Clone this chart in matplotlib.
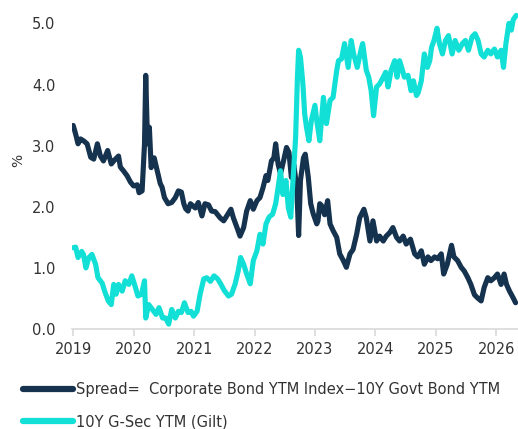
import matplotlib
matplotlib.use("Agg")
import matplotlib.pyplot as plt

# spread = corporate bond index YTM minus 10Y govt YTM (decimal years, %)
spread_t = [2019.00, 2019.04, 2019.08, 2019.12, 2019.17, 2019.23, 2019.29, 2019.34, 2019.40, 2019.45,
            2019.50, 2019.57, 2019.63, 2019.68, 2019.75, 2019.78, 2019.83, 2019.89, 2019.95, 2020.00,
            2020.06, 2020.09, 2020.14, 2020.18, 2020.20, 2020.23, 2020.26, 2020.29, 2020.32, 2020.34,
            2020.39, 2020.44, 2020.47, 2020.51, 2020.57, 2020.63, 2020.69, 2020.74, 2020.79, 2020.83,
            2020.86, 2020.90, 2020.94, 2021.02, 2021.07, 2021.13, 2021.18, 2021.24, 2021.29, 2021.35,
            2021.43, 2021.49, 2021.54, 2021.61, 2021.65, 2021.71, 2021.76, 2021.82, 2021.87, 2021.93,
            2021.98, 2022.04, 2022.09, 2022.14, 2022.19, 2022.22, 2022.28, 2022.32, 2022.35, 2022.39,
            2022.43, 2022.48, 2022.53, 2022.57, 2022.61, 2022.65, 2022.70, 2022.73, 2022.76, 2022.81,
            2022.84, 2022.89, 2022.93, 2022.97, 2023.03, 2023.05, 2023.08, 2023.11, 2023.16, 2023.21,
            2023.25, 2023.30, 2023.36, 2023.41, 2023.47, 2023.52, 2023.58, 2023.63, 2023.69, 2023.74,
            2023.81, 2023.85, 2023.91, 2023.96, 2024.02, 2024.07, 2024.13, 2024.18, 2024.24, 2024.29,
            2024.35, 2024.40, 2024.46, 2024.51, 2024.58, 2024.65, 2024.70, 2024.76, 2024.81, 2024.87,
            2024.92, 2024.98, 2025.03, 2025.09, 2025.13, 2025.19, 2025.26, 2025.30, 2025.36, 2025.42,
            2025.47, 2025.53, 2025.58, 2025.64, 2025.69, 2025.75, 2025.80, 2025.86, 2025.91, 2025.97,
            2026.02, 2026.08, 2026.13, 2026.17, 2026.22, 2026.28, 2026.32]
spread = [3.33, 3.19, 3.03, 3.11, 3.08, 3.03, 2.81, 2.78, 3.03, 2.83,
          2.75, 2.92, 2.70, 2.76, 2.83, 2.65, 2.59, 2.51, 2.40, 2.34,
          2.36, 2.23, 2.26, 3.03, 4.15, 3.03, 3.30, 2.64, 2.75, 2.80,
          2.59, 2.38, 2.32, 2.15, 2.05, 2.07, 2.15, 2.26, 2.24, 2.05,
          1.97, 1.93, 2.05, 1.98, 2.07, 1.85, 2.05, 2.03, 1.93, 1.92,
          1.82, 1.77, 1.85, 1.96, 1.82, 1.66, 1.52, 1.66, 1.93, 2.10,
          1.96, 2.10, 2.15, 2.31, 2.51, 2.43, 2.75, 2.80, 3.03, 2.70,
          2.54, 2.75, 2.97, 2.89, 2.48, 2.69, 2.31, 1.53, 2.43, 2.80,
          2.86, 2.48, 2.05, 1.89, 1.72, 1.77, 2.05, 2.02, 1.87, 2.10,
          1.72, 1.61, 1.50, 1.23, 1.12, 1.01, 1.23, 1.30, 1.55, 1.82,
          1.96, 1.82, 1.44, 1.77, 1.44, 1.52, 1.44, 1.52, 1.58, 1.66,
          1.50, 1.44, 1.52, 1.39, 1.47, 1.23, 1.18, 1.28, 1.06, 1.18,
          1.12, 1.18, 1.15, 1.23, 0.90, 1.06, 1.37, 1.18, 1.12, 1.01,
          0.95, 0.84, 0.73, 0.56, 0.51, 0.46, 0.68, 0.84, 0.79, 0.84,
          0.90, 0.73, 0.90, 0.73, 0.62, 0.51, 0.43]

# 10Y gilt yield
gilt_t = [2019.00, 2019.04, 2019.08, 2019.14, 2019.17, 2019.21, 2019.26, 2019.31, 2019.37, 2019.41,
          2019.48, 2019.52, 2019.58, 2019.63, 2019.67, 2019.71, 2019.75, 2019.81, 2019.86, 2019.92,
          2019.97, 2020.03, 2020.07, 2020.13, 2020.18, 2020.20, 2020.25, 2020.31, 2020.37, 2020.42,
          2020.48, 2020.53, 2020.58, 2020.63, 2020.69, 2020.74, 2020.79, 2020.84, 2020.90, 2020.95,
          2020.99, 2021.05, 2021.10, 2021.16, 2021.21, 2021.27, 2021.33, 2021.39, 2021.44, 2021.50,
          2021.57, 2021.62, 2021.68, 2021.73, 2021.77, 2021.82, 2021.87, 2021.93, 2021.98, 2022.04,
          2022.09, 2022.14, 2022.19, 2022.24, 2022.30, 2022.35, 2022.39, 2022.43, 2022.47, 2022.52,
          2022.56, 2022.60, 2022.64, 2022.68, 2022.71, 2022.73, 2022.76, 2022.80, 2022.83, 2022.86,
          2022.90, 2022.94, 2023.00, 2023.03, 2023.08, 2023.14, 2023.19, 2023.25, 2023.30, 2023.36,
          2023.39, 2023.44, 2023.49, 2023.55, 2023.60, 2023.64, 2023.70, 2023.76, 2023.79, 2023.85,
          2023.89, 2023.93, 2023.97, 2024.02, 2024.07, 2024.13, 2024.17, 2024.21, 2024.26, 2024.32,
          2024.36, 2024.40, 2024.44, 2024.48, 2024.54, 2024.59, 2024.63, 2024.68, 2024.71, 2024.76,
          2024.81, 2024.86, 2024.90, 2024.93, 2024.97, 2025.02, 2025.06, 2025.11, 2025.16, 2025.21,
          2025.27, 2025.32, 2025.38, 2025.44, 2025.49, 2025.54, 2025.60, 2025.65, 2025.70, 2025.75,
          2025.80, 2025.86, 2025.91, 2025.97, 2026.02, 2026.08, 2026.12, 2026.16, 2026.21, 2026.25,
          2026.28, 2026.33]
gilt = [1.33, 1.34, 1.17, 1.27, 1.22, 1.00, 1.17, 1.22, 1.06, 0.84,
        0.75, 0.62, 0.46, 0.40, 0.73, 0.57, 0.73, 0.62, 0.79, 0.73,
        0.87, 0.68, 0.54, 0.57, 0.79, 0.18, 0.40, 0.32, 0.24, 0.35,
        0.18, 0.18, 0.08, 0.32, 0.18, 0.29, 0.27, 0.43, 0.27, 0.29,
        0.21, 0.29, 0.57, 0.82, 0.84, 0.78, 0.87, 0.82, 0.74, 0.63,
        0.54, 0.57, 0.74, 0.95, 1.17, 1.06, 0.90, 0.74, 1.12, 1.28,
        1.55, 1.39, 1.72, 1.83, 1.88, 2.05, 2.31, 2.59, 2.20, 2.43,
        1.98, 1.83, 2.48, 3.13, 4.11, 4.56, 4.45, 4.02, 3.52, 3.30,
        3.08, 3.41, 3.66, 3.41, 3.08, 3.79, 3.36, 3.74, 3.79, 4.23,
        4.39, 4.42, 4.67, 4.28, 4.72, 4.50, 4.28, 4.56, 4.67, 4.23,
        4.12, 3.90, 3.49, 3.96, 4.01, 4.12, 4.20, 3.96, 4.23, 4.39,
        4.12, 4.39, 4.26, 4.12, 4.15, 3.90, 4.06, 3.82, 3.87, 4.06,
        4.50, 4.28, 4.39, 4.61, 4.72, 4.92, 4.67, 4.50, 4.72, 4.80,
        4.50, 4.72, 4.56, 4.67, 4.72, 4.56, 4.78, 4.83, 4.72, 4.50,
        4.45, 4.56, 4.50, 4.58, 4.45, 4.56, 4.28, 4.67, 5.00, 4.89,
        5.06, 5.13]

years = [2019, 2020, 2021, 2022, 2023, 2024, 2025, 2026]
yticks = [0.0, 1.0, 2.0, 3.0, 4.0, 5.0]

navy = "#15324f"
cyan = "#12dfd5"
txt = "#333333"

plt.rcParams["font.family"] = ["DejaVu Sans"]
plt.rcParams["font.size"] = 10

fig = plt.figure(figsize=(5.18, 4.29), dpi=100)
ax = fig.add_axes([0.139, 0.233, 0.861, 0.741])

ax.plot(spread_t, spread, color=navy, lw=3.7, solid_joinstyle="round", solid_capstyle="round",
        label="Spread=  Corporate Bond YTM Index\u221210Y Govt Bond YTM")
ax.plot(gilt_t, gilt, color=cyan, lw=3.7, solid_joinstyle="round", solid_capstyle="round",
        label="10Y G-Sec YTM (Gilt)")

ax.set_xlim(2018.98, 2026.36)
ax.set_ylim(0, 5.2)
ax.set_xticks(years)
ax.set_xticklabels([str(y) for y in years])
ax.set_yticks(yticks)
ax.set_yticklabels([f"{v:.1f}" for v in yticks])

for s in ["top", "right", "left"]:
    ax.spines[s].set_visible(False)
ax.spines["bottom"].set_color("#d9d9d9")
ax.spines["bottom"].set_linewidth(1.2)
ax.tick_params(axis="x", colors="#d9d9d9", length=5, width=1.2, labelcolor=txt, pad=4, labelsize=10.5)
ax.tick_params(axis="y", length=0, labelcolor=txt, pad=12, labelsize=10.5)

ax.set_ylabel("%", color=txt)
ax.yaxis.set_label_coords(-0.105, 0.53)

leg = fig.legend(loc="upper left", bbox_to_anchor=(0.045, 0.11), frameon=False,
                 handlelength=3.4, handletextpad=0.2, labelspacing=1.2,
                 borderaxespad=0, borderpad=0, fontsize=10.5)
for h in leg.get_lines():
    h.set_linewidth(4.5)
for t in leg.get_texts():
    t.set_color(txt)

fig.savefig("out.png", dpi=100)
